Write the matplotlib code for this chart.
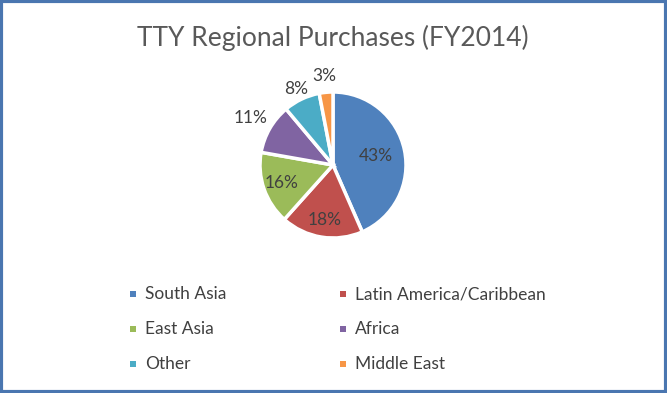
import numpy as np
import matplotlib.pyplot as plt
from matplotlib.patches import Rectangle

# --- data ---
regions = ["South Asia", "Latin America/Caribbean", "East Asia", "Africa", "Other", "Middle East"]
shares = [43, 18, 16, 11, 8, 3]
colors = ["#4F81BD", "#C0504D", "#9BBB59", "#8064A2", "#4BACC6", "#F79646"]
# label distance from centre (fraction of radius), Excel "best fit" look
label_dist = [0.60, 0.76, 0.74, 1.30, 1.16, 1.22]

plt.rcParams['font.family'] = ['Lato', 'DejaVu Sans']

fig = plt.figure(figsize=(6.67, 3.93), dpi=100)
W, H = 667, 393

# pie axes: centre (333,165), radius ~73 px
r_px = 73
cx, cy = 333, 165
ax = fig.add_axes([(cx - r_px) / W, 1 - (cy + r_px) / H, 2 * r_px / W, 2 * r_px / H])
wedges, _ = ax.pie(shares, colors=colors, startangle=90, counterclock=False,
                   radius=1.0, wedgeprops=dict(edgecolor="white", linewidth=2.5))
ax.set_xlim(-1, 1)
ax.set_ylim(-1, 1)
ax.set_aspect("equal")
ax.axis("off")

for w, s, d in zip(wedges, shares, label_dist):
    ang = np.deg2rad((w.theta1 + w.theta2) / 2)
    ax.text(d * np.cos(ang), d * np.sin(ang), f"{s}%", ha="center", va="center",
            fontsize=12.5, color="#404040", clip_on=False)

# title
fig.text(cx / W, 1 - 38 / H, "TTY Regional Purchases (FY2014)", ha="center", va="center",
         fontsize=19, color="#595959")

# legend, two columns
col_x = [133, 343]
row_y = [294, 329, 364]
for i, (name, c) in enumerate(zip(regions, colors)):
    x = col_x[i % 2]
    y = row_y[i // 2]
    fig.patches.append(Rectangle(((x - 3) / W, 1 - (y + 3) / H), 6 / W, 6 / H,
                                 transform=fig.transFigure, facecolor=c, edgecolor="none"))
    fig.text((x + 12) / W, 1 - y / H, name, ha="left", va="center", fontsize=12.5, color="#404040")

# outer border
fig.patches.append(Rectangle((0.002, 0.003), 0.996, 0.994, transform=fig.transFigure,
                             facecolor="none", edgecolor="#4A76B0", linewidth=3))

fig.savefig("out.png", dpi=100)
